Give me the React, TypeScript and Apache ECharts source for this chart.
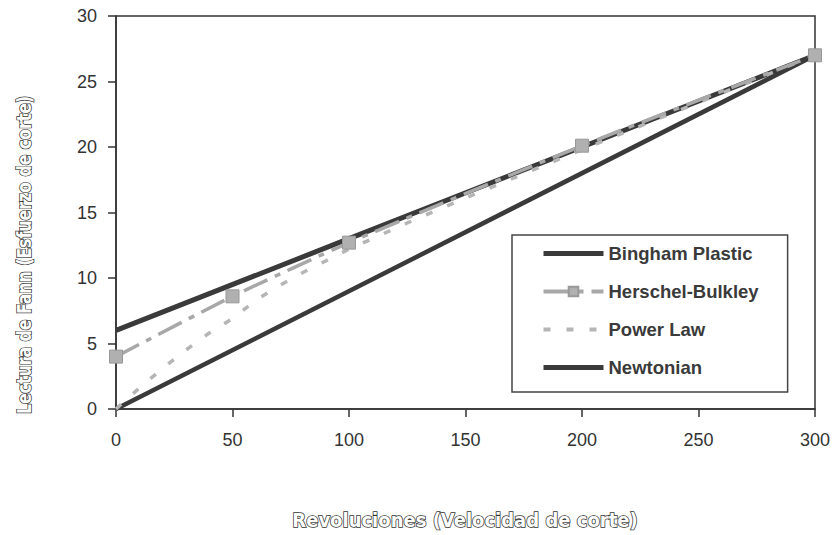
import React, { useEffect, useRef } from "react";
import * as echarts from "echarts";

const xTicks = [0, 50, 100, 150, 200, 250, 300];
const binghamPlastic: [number, number][] = [[0, 6], [100, 13], [200, 20], [300, 27]];
const herschelBulkley: [number, number][] = [[0, 4], [50, 8.6], [100, 12.7], [200, 20.1], [300, 27]];
const powerLaw: [number, number][] = [
  [0, 0], [10, 1.6], [20, 3.1], [30, 4.5], [40, 5.8], [50, 6.9], [60, 8.3], [70, 9.4],
  [80, 10.4], [90, 11.3], [100, 12.2], [125, 14.2], [150, 16.1], [200, 19.8], [250, 23.4], [300, 27],
];
const newtonian: [number, number][] = [[0, 0], [300, 27]];
const legendOrder = ["Bingham Plastic", "Herschel-Bulkley", "Power Law", "Newtonian"];
const noMarkerInLegend = ["Bingham Plastic", "Power Law", "Newtonian"];
const xTitle = "Revoluciones (Velocidad de corte)";
const yTitle = "Lectura de Fann (Esfuerzo de corte)";

export default function App() {
  const ref = useRef<HTMLDivElement>(null);
  useEffect(() => {
    if (!ref.current) return;
    const chart = echarts.init(ref.current, null, { renderer: "svg" });
    const font = "'Liberation Sans', Arial, sans-serif";
    const titleStyle = {
      fill: "#fff",
      stroke: "#333",
      lineWidth: 1.5,
      fontFamily: "'DejaVu Sans Condensed', 'DejaVu Sans', sans-serif",
      fontWeight: "bold",
      fontSize: 20,
      align: "center",
      verticalAlign: "middle",
    };
    const legendLineWidth: Record<string, number> = {
      "Bingham Plastic": 5, "Herschel-Bulkley": 4, "Power Law": 4, "Newtonian": 5,
    };
    chart.setOption({
      animation: false,
      backgroundColor: "#fff",
      grid: {
        left: 116, right: 21, top: 16, bottom: 126,
        show: true, borderColor: "#333", borderWidth: 1.5,
      },
      xAxis: {
        type: "value", min: 0, max: 300, interval: 50,
        data: xTicks,
        axisLine: { lineStyle: { color: "#333", width: 1.5 } },
        axisTick: { show: true, length: 8, lineStyle: { color: "#333", width: 1.5 } },
        axisLabel: { margin: 22, color: "#333", fontSize: 18, fontFamily: font },
        splitLine: { show: false },
      },
      yAxis: {
        type: "value", min: 0, max: 30, interval: 5,
        axisLine: { show: true, lineStyle: { color: "#333", width: 1.5 } },
        axisTick: { show: true, length: 8, lineStyle: { color: "#333", width: 1.5 } },
        axisLabel: { margin: 19, color: "#333", fontSize: 18, fontFamily: font },
        splitLine: { show: false },
      },
      legend: {
        data: legendOrder.map((name) => {
          const item: any = { name, lineStyle: { width: legendLineWidth[name] } };
          if (noMarkerInLegend.includes(name)) item.itemStyle = { opacity: 0 };
          return item;
        }),
        orient: "vertical",
        left: 512,
        top: 235,
        padding: [9, 29, 15, 29],
        itemGap: 19,
        itemWidth: 60,
        itemHeight: 12,
        borderColor: "#444",
        borderWidth: 1.5,
        backgroundColor: "#fff",
        textStyle: { fontFamily: font, fontWeight: "bold", fontSize: 18.5, color: "#3a3a3a" },
      },
      graphic: [
        { type: "text", x: 465, y: 520, style: { text: xTitle, ...titleStyle } },
        {
          type: "text", x: 24, y: 255, rotation: Math.PI / 2, scaleX: 0.875,
          style: { text: yTitle, ...titleStyle },
        },
      ],
      series: [
        {
          name: "Bingham Plastic", type: "line", data: binghamPlastic, showSymbol: false, symbol: "none",
          z: 2, lineStyle: { color: "#3a3a3a", width: 5 }, itemStyle: { color: "#3a3a3a" },
        },
        {
          name: "Newtonian", type: "line", data: newtonian, showSymbol: false, symbol: "none",
          z: 2, lineStyle: { color: "#3a3a3a", width: 4.5 }, itemStyle: { color: "#3a3a3a" },
        },
        {
          name: "Herschel-Bulkley", type: "line", data: herschelBulkley, smooth: 0.2,
          symbol: "rect", symbolSize: 13, z: 4,
          lineStyle: { color: "#a8a8a8", width: 3.5, type: [26, 8, 6, 8] },
          itemStyle: { color: "#b0b0b0", borderColor: "#999", borderWidth: 1 },
        },
        {
          name: "Power Law", type: "line", data: powerLaw, symbol: "none", showSymbol: false, z: 3,
          lineStyle: { color: "#b5b5b5", width: 3.5, type: [7, 16] },
          itemStyle: { color: "#b5b5b5" },
        },
      ],
    });
    return () => chart.dispose();
  }, []);
  return <div ref={ref} style={{ width: 836, height: 535, position: "absolute", left: 0, top: 0 }} />;
}
